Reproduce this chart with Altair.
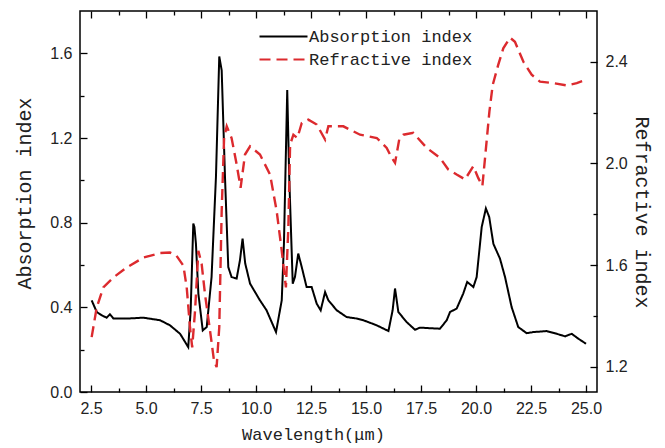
import altair as alt
import pandas as pd

# ---- data ----
wl_abs = [2.53, 2.76, 2.99, 3.21, 3.36, 3.52, 4.12, 4.88, 5.64, 6.09, 6.55, 6.92,
          7.03, 7.15, 7.20, 7.27, 7.38, 7.58, 7.76, 7.98, 8.18, 8.33, 8.44, 8.59,
          8.74, 8.89, 9.12, 9.27, 9.39, 9.51, 9.73, 10.18, 10.48, 10.91, 11.17,
          11.27, 11.42, 11.51, 11.67, 11.77, 11.92, 12.08, 12.30, 12.53, 12.76,
          12.94, 13.14, 13.29, 13.67, 14.12, 14.58, 14.88, 15.49, 16.02, 16.21,
          16.32, 16.47, 16.85, 17.23, 17.45, 18.36, 18.67, 18.82, 19.12, 19.42,
          19.60, 19.88, 20.03, 20.26, 20.45, 20.60, 20.79, 21.09, 21.32, 21.62,
          21.92, 22.30, 22.60, 23.21, 23.67, 24.05, 24.35, 24.65, 25.00]
abs_vals = [0.433, 0.378, 0.362, 0.351, 0.367, 0.347, 0.347, 0.351, 0.339, 0.315, 0.275, 0.212,
            0.386, 0.796, 0.78, 0.70, 0.465, 0.291, 0.307, 0.543, 1.017, 1.585, 1.52, 1.017,
            0.59, 0.543, 0.536, 0.622, 0.725, 0.607, 0.512, 0.433, 0.386, 0.283, 0.433,
            0.70, 1.427, 1.017, 0.512, 0.543, 0.654, 0.59, 0.496, 0.496, 0.417,
            0.386, 0.472, 0.433, 0.386, 0.354, 0.347, 0.339, 0.315, 0.288, 0.386,
            0.489, 0.378, 0.33, 0.294, 0.304, 0.299, 0.339, 0.378, 0.394, 0.465,
            0.52, 0.496, 0.543, 0.78, 0.867, 0.827, 0.70, 0.63, 0.543, 0.401,
            0.307, 0.278, 0.283, 0.288, 0.275, 0.263, 0.275, 0.252, 0.228]

wl_ref = [2.53, 2.76, 3.06, 3.52, 4.12, 4.88, 5.64, 6.09, 6.39, 6.70, 6.85, 7.00,
          7.10, 7.23, 7.38, 7.53, 7.68, 7.91, 8.09, 8.21, 8.33, 8.44, 8.55, 8.67,
          8.89, 9.12, 9.30, 9.50, 9.73, 10.18, 10.64, 10.94, 11.17, 11.36, 11.47,
          11.55, 11.70, 11.88, 12.08, 12.38, 12.76, 13.14, 13.29, 13.97, 14.73,
          15.49, 15.94, 16.17, 16.32, 16.51, 16.70, 17.15, 17.76, 18.36, 18.74,
          19.12, 19.50, 19.88, 20.10, 20.29, 20.44, 20.61, 20.76, 21.01, 21.24,
          21.55, 21.77, 22.15, 22.53, 22.91, 23.51, 24.12, 24.58, 25.00]
ref_vals = [1.316, 1.433, 1.512, 1.551, 1.59, 1.629, 1.647, 1.649, 1.636, 1.597, 1.512, 1.355,
            1.276, 1.42, 1.656, 1.604, 1.486, 1.342, 1.224, 1.198, 1.355, 1.812, 2.10, 2.146,
            2.10, 1.996, 1.904, 2.035, 2.067, 2.035, 1.956, 1.812, 1.656, 1.512, 1.747,
            2.074, 2.113, 2.10, 2.159, 2.172, 2.153, 2.094, 2.146, 2.146, 2.113,
            2.10, 2.061, 2.022, 2.002, 2.094, 2.113, 2.12, 2.061, 2.022, 1.976,
            1.956, 1.937, 1.989, 1.943, 1.911, 2.048, 2.205, 2.309, 2.388, 2.453,
            2.495, 2.479, 2.401, 2.349, 2.322, 2.316, 2.307, 2.316, 2.329]

series = ["Absorption index", "Refractive index"]
x_major = [2.5, 5.0, 7.5, 10.0, 12.5, 15.0, 17.5, 20.0, 22.5, 25.0]
x_minor = [3.75, 6.25, 8.75, 11.25, 13.75, 16.25, 18.75, 21.25, 23.75]
abs_major = [0.0, 0.4, 0.8, 1.2, 1.6]
abs_minor = [0.2, 0.6, 1.0, 1.4]
ref_major = [1.2, 1.6, 2.0, 2.4]
ref_minor = [1.4, 1.8, 2.2]

df_abs = pd.DataFrame({"wl": wl_abs, "val": abs_vals, "series": series[0]})
df_ref = pd.DataFrame({"wl": wl_ref, "val": ref_vals, "series": series[1]})

x_scale = alt.Scale(domain=[2.0, 25.5], nice=False, zero=False)
abs_scale = alt.Scale(domain=[0.0, 1.8], nice=False, zero=False)
ref_scale = alt.Scale(domain=[1.1, 2.6], nice=False, zero=False)
color_scale = alt.Scale(domain=series, range=["#000000", "#dc2a2e"])
dash_scale = alt.Scale(domain=series, range=[[1, 0], [11, 6]])

MAJ, MIN = 7, 4
LABEL = dict(labelFont="Liberation Sans", labelFontSize=16, labelColor="#222222",
             labelPadding=8, format=".1f")
TITLE = dict(titleFont="Liberation Mono", titleFontWeight="normal", titleColor="#222222")


def axis(orient, values, size, labels, **kw):
    extra = dict(LABEL) if labels else {}
    extra.update(kw)
    return alt.Axis(orient=orient, values=values, tickSize=size, offset=-size,
                    labels=labels, domain=False, grid=False, tickColor="#000000",
                    tickWidth=1.3, **extra)


legend = alt.Legend(orient="none", legendX=192, legendY=14, title=None,
                    symbolType="M-2.4,0H2.4", symbolSize=400, symbolStrokeWidth=2.2,
                    labelFont="Liberation Mono", labelFontSize=17, labelColor="#222222",
                    labelOffset=14, labelLimit=0, rowPadding=3, padding=0)

color_enc = alt.Color("series:N", scale=color_scale, legend=legend)
dash_enc = alt.StrokeDash("series:N", scale=dash_scale, legend=legend)

layer_a = alt.Chart(df_abs).mark_line(strokeWidth=2.0).encode(
    x=alt.X("wl:Q", scale=x_scale, title="Wavelength(μm)",
            axis=axis("bottom", x_major, MAJ, True, titleFontSize=17, titlePadding=10,
                      titleX=233, **TITLE)),
    y=alt.Y("val:Q", scale=abs_scale, title="Absorption index",
            axis=axis("left", abs_major, MAJ, True, titleFontSize=20, titlePadding=15,
                      titleY=182, **TITLE)),
    color=color_enc, strokeDash=dash_enc,
)

layer_b = alt.Chart(df_ref).mark_line(strokeWidth=2.4).encode(
    x=alt.X("wl:Q", scale=x_scale, title=None, axis=axis("top", x_major, MAJ, False)),
    y=alt.Y("val:Q", scale=ref_scale, title="Refractive index",
            axis=axis("right", ref_major, MAJ, True, titleFontSize=20, titlePadding=4,
                      titleY=201, **TITLE)),
    color=color_enc, strokeDash=dash_enc,
)

layer_c = alt.Chart(df_abs).mark_line(opacity=0).encode(
    x=alt.X("wl:Q", scale=x_scale, title=None, axis=axis("bottom", x_minor, MIN, False)),
    y=alt.Y("val:Q", scale=abs_scale, title=None, axis=axis("left", abs_minor, MIN, False)),
)

layer_d = alt.Chart(df_ref).mark_line(opacity=0).encode(
    x=alt.X("wl:Q", scale=x_scale, title=None, axis=axis("top", x_minor, MIN, False)),
    y=alt.Y("val:Q", scale=ref_scale, title=None, axis=axis("right", ref_minor, MIN, False)),
)

chart = alt.layer(layer_c, layer_d, layer_a, layer_b).resolve_scale(
    x="independent", y="independent", color="shared", strokeDash="shared"
).resolve_axis(x="independent", y="independent").properties(
    width=517, height=381,
    autosize=alt.AutoSizeParams(type="none"),
    padding={"left": 72, "top": 3, "right": 60, "bottom": 56},
    background="white",
).configure_view(stroke="#000000", strokeWidth=1.5)

chart.save("out.html", embed_options={"renderer": "svg", "actions": False})
